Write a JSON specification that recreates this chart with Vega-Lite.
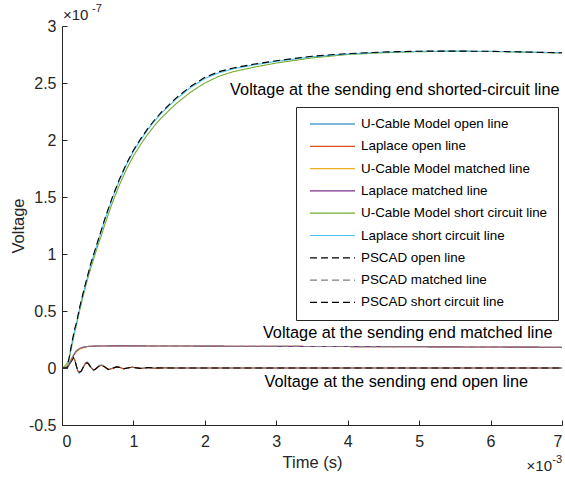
{
  "$schema": "https://vega.github.io/schema/vega-lite/v6.json",
  "width": 500,
  "height": 399,
  "autosize": {"type": "none"},
  "padding": {"left": 62, "top": 26, "right": 3, "bottom": 53},
  "background": "white",
  "config": {
    "font": "Liberation Sans",
    "view": {"stroke": null},
    "axis": {"grid": false, "domainColor": "#262626", "tickColor": "#262626", "labelColor": "#262626", "titleColor": "#262626", "labelFontSize": 16, "titleFontSize": 16.5, "titleFontWeight": "normal", "domainWidth": 1, "tickWidth": 1}
  },
  "layer": [
    {
      "data": {"values": [
        {"s":"U-Cable Model open line","t":0,"v":0},{"s":"U-Cable Model open line","t":0.07,"v":0},{"s":"U-Cable Model open line","t":0.1,"v":0.03},{"s":"U-Cable Model open line","t":0.13,"v":0.06},{"s":"U-Cable Model open line","t":0.16,"v":0.09},{"s":"U-Cable Model open line","t":0.18,"v":0.07},{"s":"U-Cable Model open line","t":0.2,"v":0.02},{"s":"U-Cable Model open line","t":0.22,"v":-0.025},{"s":"U-Cable Model open line","t":0.24,"v":-0.045},{"s":"U-Cable Model open line","t":0.27,"v":-0.03},{"s":"U-Cable Model open line","t":0.3,"v":0.01},{"s":"U-Cable Model open line","t":0.33,"v":0.045},{"s":"U-Cable Model open line","t":0.35,"v":0.052},{"s":"U-Cable Model open line","t":0.37,"v":0.042},{"s":"U-Cable Model open line","t":0.4,"v":0.01},{"s":"U-Cable Model open line","t":0.44,"v":-0.022},{"s":"U-Cable Model open line","t":0.47,"v":-0.01},{"s":"U-Cable Model open line","t":0.5,"v":0.01},{"s":"U-Cable Model open line","t":0.53,"v":0.024},{"s":"U-Cable Model open line","t":0.56,"v":0.026},{"s":"U-Cable Model open line","t":0.6,"v":0.01},{"s":"U-Cable Model open line","t":0.65,"v":-0.015},{"s":"U-Cable Model open line","t":0.7,"v":-0.004},{"s":"U-Cable Model open line","t":0.77,"v":0.013},{"s":"U-Cable Model open line","t":0.82,"v":0.004},{"s":"U-Cable Model open line","t":0.86,"v":-0.008},{"s":"U-Cable Model open line","t":0.92,"v":0},{"s":"U-Cable Model open line","t":0.98,"v":0.008},{"s":"U-Cable Model open line","t":1.04,"v":0.002},{"s":"U-Cable Model open line","t":1.1,"v":-0.004},{"s":"U-Cable Model open line","t":1.2,"v":0.004},{"s":"U-Cable Model open line","t":1.3,"v":-0.002},{"s":"U-Cable Model open line","t":1.4,"v":0.002},{"s":"U-Cable Model open line","t":1.6,"v":0},{"s":"U-Cable Model open line","t":3,"v":0},{"s":"U-Cable Model open line","t":5,"v":0},{"s":"U-Cable Model open line","t":7,"v":0},

        {"s":"Laplace open line","t":0,"v":0},{"s":"Laplace open line","t":0.07,"v":0},{"s":"Laplace open line","t":0.1,"v":0.03},{"s":"Laplace open line","t":0.13,"v":0.06},{"s":"Laplace open line","t":0.16,"v":0.09},{"s":"Laplace open line","t":0.18,"v":0.07},{"s":"Laplace open line","t":0.2,"v":0.02},{"s":"Laplace open line","t":0.22,"v":-0.02},{"s":"Laplace open line","t":0.24,"v":-0.038},{"s":"Laplace open line","t":0.27,"v":-0.028},{"s":"Laplace open line","t":0.3,"v":0.01},{"s":"Laplace open line","t":0.33,"v":0.04},{"s":"Laplace open line","t":0.35,"v":0.047},{"s":"Laplace open line","t":0.37,"v":0.038},{"s":"Laplace open line","t":0.4,"v":0.01},{"s":"Laplace open line","t":0.44,"v":-0.018},{"s":"Laplace open line","t":0.47,"v":-0.01},{"s":"Laplace open line","t":0.5,"v":0.008},{"s":"Laplace open line","t":0.53,"v":0.02},{"s":"Laplace open line","t":0.56,"v":0.022},{"s":"Laplace open line","t":0.6,"v":0.008},{"s":"Laplace open line","t":0.65,"v":-0.013},{"s":"Laplace open line","t":0.7,"v":-0.004},{"s":"Laplace open line","t":0.77,"v":0.011},{"s":"Laplace open line","t":0.82,"v":0.003},{"s":"Laplace open line","t":0.86,"v":-0.007},{"s":"Laplace open line","t":0.92,"v":0},{"s":"Laplace open line","t":0.98,"v":0.007},{"s":"Laplace open line","t":1.04,"v":0.002},{"s":"Laplace open line","t":1.1,"v":-0.004},{"s":"Laplace open line","t":1.2,"v":0.003},{"s":"Laplace open line","t":1.3,"v":-0.002},{"s":"Laplace open line","t":1.4,"v":0.001},{"s":"Laplace open line","t":1.6,"v":0},{"s":"Laplace open line","t":3,"v":0},{"s":"Laplace open line","t":5,"v":0},{"s":"Laplace open line","t":7,"v":0},

        {"s":"U-Cable Model matched line","t":0,"v":0},{"s":"U-Cable Model matched line","t":0.03,"v":0.005},{"s":"U-Cable Model matched line","t":0.07,"v":0.02},{"s":"U-Cable Model matched line","t":0.1,"v":0.05},{"s":"U-Cable Model matched line","t":0.13,"v":0.08},{"s":"U-Cable Model matched line","t":0.16,"v":0.11},{"s":"U-Cable Model matched line","t":0.2,"v":0.14},{"s":"U-Cable Model matched line","t":0.25,"v":0.165},{"s":"U-Cable Model matched line","t":0.3,"v":0.178},{"s":"U-Cable Model matched line","t":0.35,"v":0.186},{"s":"U-Cable Model matched line","t":0.4,"v":0.19},{"s":"U-Cable Model matched line","t":0.5,"v":0.193},{"s":"U-Cable Model matched line","t":0.7,"v":0.194},{"s":"U-Cable Model matched line","t":1,"v":0.194},{"s":"U-Cable Model matched line","t":1.5,"v":0.193},{"s":"U-Cable Model matched line","t":2,"v":0.192},{"s":"U-Cable Model matched line","t":3,"v":0.19},{"s":"U-Cable Model matched line","t":4,"v":0.188},{"s":"U-Cable Model matched line","t":5,"v":0.186},{"s":"U-Cable Model matched line","t":6,"v":0.184},{"s":"U-Cable Model matched line","t":7,"v":0.182},

        {"s":"Laplace matched line","t":0,"v":0},{"s":"Laplace matched line","t":0.07,"v":0},{"s":"Laplace matched line","t":0.1,"v":0.03},{"s":"Laplace matched line","t":0.13,"v":0.07},{"s":"Laplace matched line","t":0.16,"v":0.11},{"s":"Laplace matched line","t":0.2,"v":0.15},{"s":"Laplace matched line","t":0.25,"v":0.172},{"s":"Laplace matched line","t":0.3,"v":0.183},{"s":"Laplace matched line","t":0.35,"v":0.188},{"s":"Laplace matched line","t":0.4,"v":0.191},{"s":"Laplace matched line","t":0.5,"v":0.193},{"s":"Laplace matched line","t":0.7,"v":0.194},{"s":"Laplace matched line","t":1,"v":0.194},{"s":"Laplace matched line","t":1.5,"v":0.193},{"s":"Laplace matched line","t":2,"v":0.192},{"s":"Laplace matched line","t":3,"v":0.19},{"s":"Laplace matched line","t":4,"v":0.188},{"s":"Laplace matched line","t":5,"v":0.186},{"s":"Laplace matched line","t":6,"v":0.184},{"s":"Laplace matched line","t":7,"v":0.182},

        {"s":"U-Cable Model short circuit line","t":0,"v":0},{"s":"U-Cable Model short circuit line","t":0.03,"v":0.01},{"s":"U-Cable Model short circuit line","t":0.07,"v":0.04},{"s":"U-Cable Model short circuit line","t":0.1,"v":0.08},{"s":"U-Cable Model short circuit line","t":0.14,"v":0.2},{"s":"U-Cable Model short circuit line","t":0.18,"v":0.32},{"s":"U-Cable Model short circuit line","t":0.2,"v":0.37},{"s":"U-Cable Model short circuit line","t":0.25,"v":0.51},{"s":"U-Cable Model short circuit line","t":0.3,"v":0.64},{"s":"U-Cable Model short circuit line","t":0.35,"v":0.76},{"s":"U-Cable Model short circuit line","t":0.4,"v":0.87},{"s":"U-Cable Model short circuit line","t":0.45,"v":0.97},{"s":"U-Cable Model short circuit line","t":0.5,"v":1.07},{"s":"U-Cable Model short circuit line","t":0.55,"v":1.16},{"s":"U-Cable Model short circuit line","t":0.6,"v":1.26},{"s":"U-Cable Model short circuit line","t":0.7,"v":1.44},{"s":"U-Cable Model short circuit line","t":0.8,"v":1.6},{"s":"U-Cable Model short circuit line","t":0.9,"v":1.74},{"s":"U-Cable Model short circuit line","t":1,"v":1.86},{"s":"U-Cable Model short circuit line","t":1.1,"v":1.96},{"s":"U-Cable Model short circuit line","t":1.2,"v":2.05},{"s":"U-Cable Model short circuit line","t":1.3,"v":2.13},{"s":"U-Cable Model short circuit line","t":1.4,"v":2.2},{"s":"U-Cable Model short circuit line","t":1.6,"v":2.32},{"s":"U-Cable Model short circuit line","t":1.8,"v":2.42},{"s":"U-Cable Model short circuit line","t":2,"v":2.5},{"s":"U-Cable Model short circuit line","t":2.2,"v":2.56},{"s":"U-Cable Model short circuit line","t":2.4,"v":2.6},{"s":"U-Cable Model short circuit line","t":2.7,"v":2.64},{"s":"U-Cable Model short circuit line","t":3,"v":2.675},{"s":"U-Cable Model short circuit line","t":3.5,"v":2.72},{"s":"U-Cable Model short circuit line","t":4,"v":2.75},{"s":"U-Cable Model short circuit line","t":4.5,"v":2.765},{"s":"U-Cable Model short circuit line","t":5,"v":2.775},{"s":"U-Cable Model short circuit line","t":5.5,"v":2.778},{"s":"U-Cable Model short circuit line","t":6,"v":2.776},{"s":"U-Cable Model short circuit line","t":6.5,"v":2.77},{"s":"U-Cable Model short circuit line","t":7,"v":2.763},

        {"s":"Laplace short circuit line","t":0,"v":0},{"s":"Laplace short circuit line","t":0.07,"v":0},{"s":"Laplace short circuit line","t":0.1,"v":0.09},{"s":"Laplace short circuit line","t":0.14,"v":0.22},{"s":"Laplace short circuit line","t":0.18,"v":0.34},{"s":"Laplace short circuit line","t":0.2,"v":0.38},{"s":"Laplace short circuit line","t":0.22,"v":0.44},{"s":"Laplace short circuit line","t":0.25,"v":0.53},{"s":"Laplace short circuit line","t":0.3,"v":0.66},{"s":"Laplace short circuit line","t":0.35,"v":0.78},{"s":"Laplace short circuit line","t":0.4,"v":0.9},{"s":"Laplace short circuit line","t":0.45,"v":1.0},{"s":"Laplace short circuit line","t":0.5,"v":1.1},{"s":"Laplace short circuit line","t":0.55,"v":1.2},{"s":"Laplace short circuit line","t":0.6,"v":1.3},{"s":"Laplace short circuit line","t":0.7,"v":1.48},{"s":"Laplace short circuit line","t":0.8,"v":1.64},{"s":"Laplace short circuit line","t":0.9,"v":1.78},{"s":"Laplace short circuit line","t":1,"v":1.9},{"s":"Laplace short circuit line","t":1.1,"v":2.0},{"s":"Laplace short circuit line","t":1.2,"v":2.09},{"s":"Laplace short circuit line","t":1.3,"v":2.17},{"s":"Laplace short circuit line","t":1.4,"v":2.24},{"s":"Laplace short circuit line","t":1.6,"v":2.36},{"s":"Laplace short circuit line","t":1.8,"v":2.46},{"s":"Laplace short circuit line","t":2,"v":2.54},{"s":"Laplace short circuit line","t":2.2,"v":2.59},{"s":"Laplace short circuit line","t":2.4,"v":2.625},{"s":"Laplace short circuit line","t":2.7,"v":2.66},{"s":"Laplace short circuit line","t":3,"v":2.69},{"s":"Laplace short circuit line","t":3.5,"v":2.73},{"s":"Laplace short circuit line","t":4,"v":2.755},{"s":"Laplace short circuit line","t":4.5,"v":2.77},{"s":"Laplace short circuit line","t":5,"v":2.778},{"s":"Laplace short circuit line","t":5.5,"v":2.78},{"s":"Laplace short circuit line","t":6,"v":2.778},{"s":"Laplace short circuit line","t":6.5,"v":2.772},{"s":"Laplace short circuit line","t":7,"v":2.765},

        {"s":"PSCAD open line","t":0,"v":0},{"s":"PSCAD open line","t":0.07,"v":0},{"s":"PSCAD open line","t":0.1,"v":0.03},{"s":"PSCAD open line","t":0.13,"v":0.06},{"s":"PSCAD open line","t":0.16,"v":0.09},{"s":"PSCAD open line","t":0.18,"v":0.07},{"s":"PSCAD open line","t":0.2,"v":0.02},{"s":"PSCAD open line","t":0.22,"v":-0.02},{"s":"PSCAD open line","t":0.24,"v":-0.036},{"s":"PSCAD open line","t":0.27,"v":-0.026},{"s":"PSCAD open line","t":0.3,"v":0.01},{"s":"PSCAD open line","t":0.33,"v":0.038},{"s":"PSCAD open line","t":0.35,"v":0.045},{"s":"PSCAD open line","t":0.37,"v":0.036},{"s":"PSCAD open line","t":0.4,"v":0.01},{"s":"PSCAD open line","t":0.44,"v":-0.017},{"s":"PSCAD open line","t":0.47,"v":-0.009},{"s":"PSCAD open line","t":0.5,"v":0.008},{"s":"PSCAD open line","t":0.53,"v":0.019},{"s":"PSCAD open line","t":0.56,"v":0.021},{"s":"PSCAD open line","t":0.6,"v":0.008},{"s":"PSCAD open line","t":0.65,"v":-0.012},{"s":"PSCAD open line","t":0.7,"v":-0.004},{"s":"PSCAD open line","t":0.77,"v":0.01},{"s":"PSCAD open line","t":0.82,"v":0.003},{"s":"PSCAD open line","t":0.86,"v":-0.006},{"s":"PSCAD open line","t":0.92,"v":0},{"s":"PSCAD open line","t":0.98,"v":0.006},{"s":"PSCAD open line","t":1.1,"v":-0.003},{"s":"PSCAD open line","t":1.2,"v":0.003},{"s":"PSCAD open line","t":1.4,"v":0},{"s":"PSCAD open line","t":3,"v":0},{"s":"PSCAD open line","t":5,"v":0},{"s":"PSCAD open line","t":7,"v":0},

        {"s":"PSCAD matched line","t":0,"v":0},{"s":"PSCAD matched line","t":0.07,"v":0},{"s":"PSCAD matched line","t":0.1,"v":0.03},{"s":"PSCAD matched line","t":0.13,"v":0.07},{"s":"PSCAD matched line","t":0.16,"v":0.11},{"s":"PSCAD matched line","t":0.2,"v":0.15},{"s":"PSCAD matched line","t":0.25,"v":0.172},{"s":"PSCAD matched line","t":0.3,"v":0.183},{"s":"PSCAD matched line","t":0.35,"v":0.188},{"s":"PSCAD matched line","t":0.4,"v":0.191},{"s":"PSCAD matched line","t":0.5,"v":0.193},{"s":"PSCAD matched line","t":1,"v":0.194},{"s":"PSCAD matched line","t":2,"v":0.192},{"s":"PSCAD matched line","t":3,"v":0.19},{"s":"PSCAD matched line","t":4,"v":0.188},{"s":"PSCAD matched line","t":5,"v":0.186},{"s":"PSCAD matched line","t":6,"v":0.184},{"s":"PSCAD matched line","t":7,"v":0.182},

        {"s":"PSCAD short circuit line","t":0,"v":0},{"s":"PSCAD short circuit line","t":0.07,"v":0},{"s":"PSCAD short circuit line","t":0.1,"v":0.09},{"s":"PSCAD short circuit line","t":0.14,"v":0.23},{"s":"PSCAD short circuit line","t":0.18,"v":0.35},{"s":"PSCAD short circuit line","t":0.2,"v":0.39},{"s":"PSCAD short circuit line","t":0.22,"v":0.45},{"s":"PSCAD short circuit line","t":0.25,"v":0.54},{"s":"PSCAD short circuit line","t":0.3,"v":0.67},{"s":"PSCAD short circuit line","t":0.35,"v":0.79},{"s":"PSCAD short circuit line","t":0.4,"v":0.91},{"s":"PSCAD short circuit line","t":0.45,"v":1.01},{"s":"PSCAD short circuit line","t":0.5,"v":1.11},{"s":"PSCAD short circuit line","t":0.55,"v":1.21},{"s":"PSCAD short circuit line","t":0.6,"v":1.31},{"s":"PSCAD short circuit line","t":0.7,"v":1.49},{"s":"PSCAD short circuit line","t":0.8,"v":1.65},{"s":"PSCAD short circuit line","t":0.9,"v":1.79},{"s":"PSCAD short circuit line","t":1,"v":1.91},{"s":"PSCAD short circuit line","t":1.1,"v":2.01},{"s":"PSCAD short circuit line","t":1.2,"v":2.1},{"s":"PSCAD short circuit line","t":1.3,"v":2.18},{"s":"PSCAD short circuit line","t":1.4,"v":2.25},{"s":"PSCAD short circuit line","t":1.6,"v":2.37},{"s":"PSCAD short circuit line","t":1.8,"v":2.47},{"s":"PSCAD short circuit line","t":2,"v":2.55},{"s":"PSCAD short circuit line","t":2.2,"v":2.6},{"s":"PSCAD short circuit line","t":2.4,"v":2.632},{"s":"PSCAD short circuit line","t":2.7,"v":2.667},{"s":"PSCAD short circuit line","t":3,"v":2.695},{"s":"PSCAD short circuit line","t":3.5,"v":2.735},{"s":"PSCAD short circuit line","t":4,"v":2.758},{"s":"PSCAD short circuit line","t":4.5,"v":2.772},{"s":"PSCAD short circuit line","t":5,"v":2.779},{"s":"PSCAD short circuit line","t":5.5,"v":2.78},{"s":"PSCAD short circuit line","t":6,"v":2.778},{"s":"PSCAD short circuit line","t":6.5,"v":2.772},{"s":"PSCAD short circuit line","t":7,"v":2.765}
      ]},
      "mark": {"type": "line", "strokeWidth": 1.1, "clip": true},
      "encoding": {
        "x": {"field": "t", "type": "quantitative", "scale": {"domain": [0, 7], "nice": false},
          "axis": {"title": "Time (s)", "values": [0,1,2,3,4,5,6,7], "tickSize": -5, "labelPadding": 13, "titlePadding": 5, "labelExpr": "'' + datum.value"}},
        "y": {"field": "v", "type": "quantitative", "scale": {"domain": [-0.5, 3], "nice": false, "zero": false},
          "axis": {"title": "Voltage", "values": [-0.5,0,0.5,1,1.5,2,2.5,3], "tickSize": -5, "labelPadding": 11, "titlePadding": 2, "labelExpr": "'' + datum.value"}},
        "color": {"field": "s", "type": "nominal", "title": null,
          "scale": {"domain": ["U-Cable Model open line","Laplace open line","U-Cable Model matched line","Laplace matched line","U-Cable Model short circuit line","Laplace short circuit line","PSCAD open line","PSCAD matched line","PSCAD short circuit line"],
            "range": ["#0072BD","#D95319","#EDB120","#7E2F8E","#77AC30","#4DBEEE","#000000","#7f7f7f","#000000"]},
          "legend": {"orient": "none", "legendX": 234, "legendY": 81, "symbolType": "stroke", "symbolSize": 2025, "symbolStrokeWidth": 1.2, "symbolOffset": 3, "clipHeight": 14, "labelFontSize": 13.4, "labelColor": "#000000", "labelOffset": 5, "strokeColor": "#262626", "fillColor": "white", "padding": 10, "rowPadding": 8.3, "labelLimit": 300}},
        "strokeDash": {"field": "s", "type": "nominal", "title": null,
          "scale": {"domain": ["U-Cable Model open line","Laplace open line","U-Cable Model matched line","Laplace matched line","U-Cable Model short circuit line","Laplace short circuit line","PSCAD open line","PSCAD matched line","PSCAD short circuit line"],
            "range": [[1,0],[1,0],[1,0],[1,0],[1,0],[1,0],[7,4],[7,4],[7,4]]}}
      }
    },
    {
      "data": {"values": [
        {"label": "Voltage at the sending end shorted-circuit line", "t": 4.66, "v": 2.44},
        {"label": "Voltage at the sending end matched line", "t": 4.84, "v": 0.307},
        {"label": "Voltage at the sending end open line", "t": 4.68, "v": -0.123}
      ]},
      "mark": {"type": "text", "fontSize": 16.3, "color": "#000000", "align": "center", "baseline": "middle"},
      "encoding": {
        "x": {"field": "t", "type": "quantitative"},
        "y": {"field": "v", "type": "quantitative"},
        "text": {"field": "label"}
      }
    },
    {
      "data": {"values": [{"t": 0, "v": 3}]},
      "layer": [
        {"mark": {"type": "text", "text": "×10", "fontSize": 15, "color": "#262626", "align": "left", "baseline": "alphabetic", "dx": 1, "dy": -6}, "encoding": {"x": {"field": "t", "type": "quantitative"}, "y": {"field": "v", "type": "quantitative"}}},
        {"mark": {"type": "text", "text": "-7", "fontSize": 11, "color": "#262626", "align": "left", "baseline": "alphabetic", "dx": 30, "dy": -14}, "encoding": {"x": {"field": "t", "type": "quantitative"}, "y": {"field": "v", "type": "quantitative"}}}
      ]
    },
    {
      "data": {"values": [{"t": 7, "v": -0.5}]},
      "layer": [
        {"mark": {"type": "text", "text": "×10", "fontSize": 15, "color": "#262626", "align": "right", "baseline": "alphabetic", "dx": -10, "dy": 46}, "encoding": {"x": {"field": "t", "type": "quantitative"}, "y": {"field": "v", "type": "quantitative"}}},
        {"mark": {"type": "text", "text": "-3", "fontSize": 11, "color": "#262626", "align": "right", "baseline": "alphabetic", "dx": 0, "dy": 38}, "encoding": {"x": {"field": "t", "type": "quantitative"}, "y": {"field": "v", "type": "quantitative"}}}
      ]
    }
  ]
}
